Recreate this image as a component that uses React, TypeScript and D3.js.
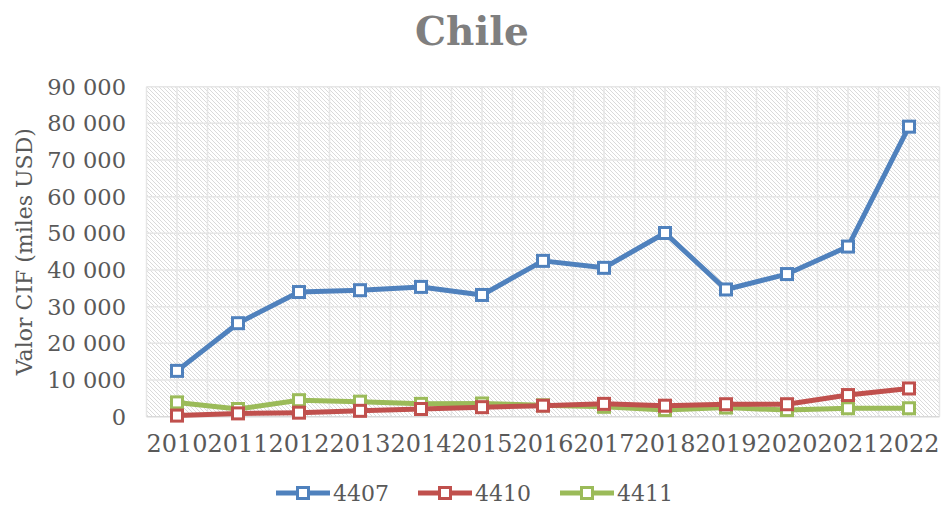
import React, { useEffect, useRef } from "react";
import * as d3 from "d3";

const years = ["2010", "2011", "2012", "2013", "2014", "2015", "2016", "2017", "2018", "2019", "2020", "2021", "2022"];
const s4407 = [12500, 25500, 34000, 34500, 35400, 33200, 42500, 40600, 50100, 34700, 38900, 46400, 79100];
const s4410 = [300, 900, 1100, 1600, 2100, 2600, 3000, 3500, 3000, 3400, 3400, 5900, 7700];
const s4411 = [3900, 2100, 4500, 4100, 3500, 3600, 3100, 2700, 1800, 2500, 1800, 2300, 2300];
const seriesNames = ["4407", "4410", "4411"];
const seriesColors = ["#4F81BD", "#C0504D", "#9BBB59"];
const yTicks = [0, 10000, 20000, 30000, 40000, 50000, 60000, 70000, 80000, 90000];

const FONT = "'DejaVu Serif', serif";
const TEXT = "#595959";

function App() {
  const ref = useRef<SVGSVGElement>(null);

  useEffect(() => {
    const width = 942;
    const height = 505;
    const plot = { left: 146.5, right: 939.5, top: 86.7, bottom: 416.7 };

    const svg = d3.select(ref.current);
    svg.selectAll("*").remove();

    const defs = svg.append("defs");
    const pat = defs
      .append("pattern")
      .attr("id", "hatch")
      .attr("patternUnits", "userSpaceOnUse")
      .attr("width", 4)
      .attr("height", 4);
    pat.append("rect").attr("width", 4).attr("height", 4).attr("fill", "#fff");
    pat
      .append("path")
      .attr("d", "M-1,-1 L5,5 M-1,3 L1,5 M3,-1 L5,1")
      .attr("stroke", "#d6d6d6")
      .attr("stroke-width", 0.9);

    svg.append("rect").attr("width", width).attr("height", height).attr("fill", "#fff");

    const x = d3.scaleBand<string>().domain(years).range([plot.left, plot.right]).padding(0);
    const cx = (yr: string) => (x(yr) as number) + x.bandwidth() / 2;
    const y = d3.scaleLinear().domain([0, 90000]).range([plot.bottom, plot.top]);

    // plot area
    svg
      .append("rect")
      .attr("x", plot.left)
      .attr("y", plot.top)
      .attr("width", plot.right - plot.left)
      .attr("height", plot.bottom - plot.top)
      .attr("fill", "url(#hatch)");

    // vertical gridlines at band edges and centres
    const vlines: number[] = [];
    years.forEach((yr) => {
      vlines.push(x(yr) as number);
      vlines.push(cx(yr));
    });
    vlines.push(plot.right);
    svg
      .append("g")
      .selectAll("line")
      .data(vlines)
      .enter()
      .append("line")
      .attr("x1", (d) => d)
      .attr("x2", (d) => d)
      .attr("y1", plot.top)
      .attr("y2", plot.bottom)
      .attr("stroke", "#e6e6e6")
      .attr("stroke-width", 1.5);

    svg
      .append("g")
      .selectAll("line")
      .data(yTicks)
      .enter()
      .append("line")
      .attr("x1", plot.left)
      .attr("x2", plot.right)
      .attr("y1", (d) => y(d))
      .attr("y2", (d) => y(d))
      .attr("stroke", (d) => (d === 0 ? "#d9d9d9" : "#e6e6e6"))
      .attr("stroke-width", 1.5);

    // y tick labels
    const fmt = (v: number) => d3.format(",")(v).replace(/,/g, " ");
    svg
      .append("g")
      .selectAll("text")
      .data(yTicks)
      .enter()
      .append("text")
      .attr("x", 126)
      .attr("y", (d) => y(d))
      .attr("dy", "0.36em")
      .attr("text-anchor", "end")
      .attr("font-family", FONT)
      .attr("font-size", 22.5)
      .attr("fill", TEXT)
      .text(fmt);

    // x tick labels
    svg
      .append("g")
      .selectAll("text")
      .data(years)
      .enter()
      .append("text")
      .attr("x", (d) => cx(d))
      .attr("y", 452)
      .attr("text-anchor", "middle")
      .attr("font-family", FONT)
      .attr("font-size", 23.5)
      .attr("fill", TEXT)
      .attr("textLength", 61)
      .attr("lengthAdjust", "spacingAndGlyphs")
      .text((d) => d);

    // y axis title
    svg
      .append("text")
      .attr("transform", `translate(32, ${(plot.top + plot.bottom) / 2}) rotate(-90)`)
      .attr("text-anchor", "middle")
      .attr("font-family", FONT)
      .attr("font-size", 22)
      .attr("fill", TEXT)
      .text("Valor CIF (miles USD)");

    // title
    svg
      .append("text")
      .attr("x", 472)
      .attr("y", 45)
      .attr("text-anchor", "middle")
      .attr("font-family", FONT)
      .attr("font-weight", "bold")
      .attr("font-size", 39)
      .attr("fill", "#7f7f7f")
      .text("Chile");

    // series
    const allSeries = [s4407, s4410, s4411];
    const line = d3
      .line<number>()
      .x((_, i) => cx(years[i]))
      .y((d) => y(d));

    allSeries
      .slice()
      .reverse()
      .forEach((vals, ri) => {
        const idx = allSeries.length - 1 - ri;
        const color = seriesColors[idx];
        const g = svg.append("g");
        g.append("path")
          .attr("d", line(vals) as string)
          .attr("fill", "none")
          .attr("stroke", color)
          .attr("stroke-width", 5)
          .attr("stroke-linejoin", "round");
        g.selectAll("rect")
          .data(vals)
          .enter()
          .append("rect")
          .attr("x", (_, i) => cx(years[i]) - 5.5)
          .attr("y", (d) => y(d) - 5.5)
          .attr("width", 11)
          .attr("height", 11)
          .attr("fill", "#fff")
          .attr("stroke", color)
          .attr("stroke-width", 3);
      });

    // legend
    const legendX = [276, 418, 560];
    const legendY = 493;
    const lg = svg.append("g");
    seriesNames.forEach((name, i) => {
      const lx = legendX[i];
      lg.append("line")
        .attr("x1", lx)
        .attr("x2", lx + 54)
        .attr("y1", legendY)
        .attr("y2", legendY)
        .attr("stroke", seriesColors[i])
        .attr("stroke-width", 5);
      lg.append("rect")
        .attr("x", lx + 21.5)
        .attr("y", legendY - 5.5)
        .attr("width", 11)
        .attr("height", 11)
        .attr("fill", "#fff")
        .attr("stroke", seriesColors[i])
        .attr("stroke-width", 3);
      lg.append("text")
        .attr("x", lx + 57)
        .attr("y", legendY)
        .attr("dy", "0.36em")
        .attr("font-family", FONT)
        .attr("font-size", 22)
        .attr("fill", TEXT)
        .text(name);
    });
  }, []);

  return (
    <svg
      ref={ref}
      width={942}
      height={505}
      style={{ position: "absolute", left: 0, top: 0 }}
    />
  );
}

export default App;
